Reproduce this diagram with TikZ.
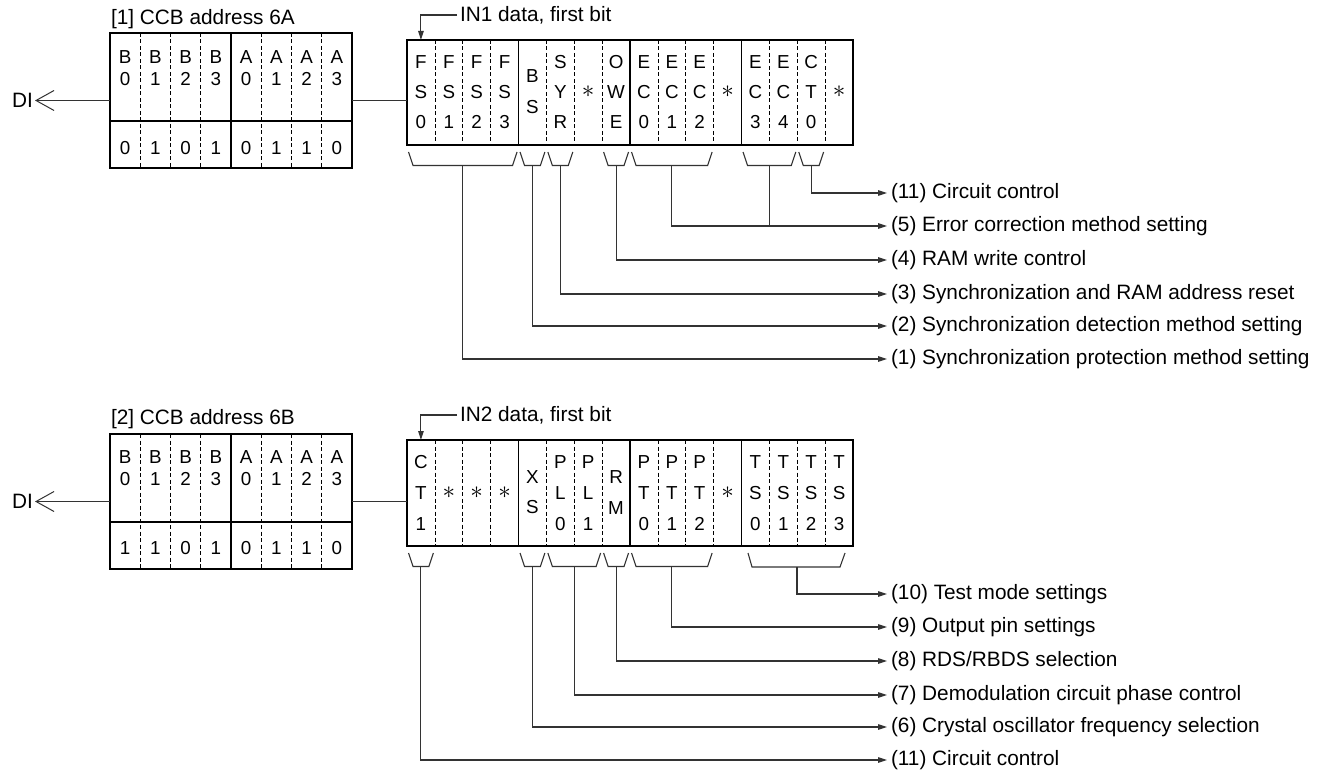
\documentclass[tikz,border=0pt]{standalone}
\usepackage{fontspec}
\setmainfont{Liberation Sans}
\usetikzlibrary{arrows.meta}
\newcommand{\bitbracket}[4]{% name, first col, last col, top y
  \draw[brk] ({407+27.875*#2+1.5},#4) -- ({407+27.875*#2+6},#4+13.5) -- ({407+27.875*(#3+1)-6},#4+13.5) -- ({407+27.875*(#3+1)-1.5},#4);
  \coordinate (#1) at ({407+27.875*(#2+#3+1)/2},#4+13.5);
}
\newcommand{\astx}{\scalebox{1.45}{$\ast$}}
\begin{document}
\begin{tikzpicture}[x=1pt,y=-1pt,
  every node/.style={inner sep=0pt, outer sep=0pt, font=\fontsize{20.8}{24}\selectfont},
  cell/.style={font=\fontsize{18.8}{22}\selectfont},
  boxln/.style={line width=1.2pt},
  divln/.style={line width=0.75pt, dash pattern=on 4pt off 2.5pt},
  conn/.style={line width=1.1pt, draw=black!80},
  brk/.style={line width=1.1pt, draw=black!80},
  tip/.style={-{Triangle[length=9pt,width=5.5pt]}},
  barb/.style={-{Straight Barb[length=18pt,width=20pt,line width=1pt]}},
  lab/.style={anchor=west, inner xsep=4pt},
  ttl/.style={anchor=west},
]
\useasboundingbox (0,0) rectangle (1327,775);

% ================= ROW 1 =================
\node[ttl] (t1) at (111,19) {[1] CCB address 6A};
\node[draw, boxln, minimum width=242pt, minimum height=135pt, anchor=north west] (a1) at (110,33) {};
\foreach \i in {1,2,3,5,6,7} \draw[divln] ({110+30.25*\i},33) -- ({110+30.25*\i},168);
\draw[boxln] (a1.north west) ++(121,0) -- ++(0,135);
\draw[boxln] (110,121) -- (352,121);
\foreach \i/\a/\b/\v in {0/B/0/0,1/B/1/1,2/B/2/0,3/B/3/1,4/A/0/0,5/A/1/1,6/A/2/1,7/A/3/0} {
  \node[cell] (a1t\i) at ({110+30.25*(\i+0.5)},57.5) {\a};
  \node[cell] (a1m\i) at ({110+30.25*(\i+0.5)},79) {\b};
  \node[cell] (a1v\i) at ({110+30.25*(\i+0.5)},148) {\v};
}
\node[anchor=east, inner xsep=2pt] (di1) at (35,100.5) {DI};
\draw[conn, barb] (a1.west) -- (di1.east);

\node[draw, boxln, minimum width=446pt, minimum height=105pt, anchor=north west] (b1) at (407,40) {};
\foreach \i in {1,2,3,5,6,7,9,10,11,13,14,15} \draw[divln] ({407+27.875*\i},40) -- ({407+27.875*\i},145);
\foreach \i in {4,8,12} \draw[boxln] ({407+27.875*\i},40) -- ({407+27.875*\i},145);
\draw[conn] (a1.east) -- (a1.east -| b1.west);
\foreach \i/\a/\b/\c in {0/F/S/0,1/F/S/1,2/F/S/2,3/F/S/3,5/S/Y/R,7/O/W/E,8/E/C/0,9/E/C/1,10/E/C/2,12/E/C/3,13/E/C/4,14/C/T/0} {
  \node[cell] (p1a\i) at ({407+27.875*(\i+0.5)},62) {\a};
  \node[cell] (p1b\i) at ({407+27.875*(\i+0.5)},92) {\b};
  \node[cell] (p1c\i) at ({407+27.875*(\i+0.5)},122) {\c};
}
\node[cell] (p1a4) at ({407+27.875*4.5},76.5) {B};
\node[cell] (p1b4) at ({407+27.875*4.5},107) {S};
\foreach \i in {6,11,15} \node[cell] (p1s\i) at ({407+27.875*(\i+0.5)},92) {\astx};

\node[anchor=west, inner xsep=3pt] (in1) at (457,15) {IN1 data, first bit};
\draw[conn, tip] (in1.west) -| (p1a0 |- b1.north);

\bitbracket{s1fs}{0}{3}{152}
\bitbracket{s1bs}{4}{4}{152}
\bitbracket{s1sy}{5}{5}{152}
\bitbracket{s1ow}{7}{7}{152}
\bitbracket{s1ec}{8}{10}{152}
\bitbracket{s1ed}{12}{13}{152}
\bitbracket{s1ct}{14}{14}{152}

\node[lab] (l1k) at (887,193) {(11) Circuit control};
\node[lab] (l1e) at (887,226) {(5) Error correction method setting};
\node[lab] (l1d) at (887,260) {(4) RAM write control};
\node[lab] (l1c) at (887,294) {(3) Synchronization and RAM address reset};
\node[lab] (l1b) at (887,326) {(2) Synchronization detection method setting};
\node[lab] (l1a) at (887,359) {(1) Synchronization protection method setting};

\draw[conn, tip] (s1ct) |- (l1k.west);
\draw[conn, tip] (s1ec) |- (l1e.west);
\draw[conn] (s1ed) -- (s1ed |- l1e.west);
\draw[conn, tip] (s1ow) |- (l1d.west);
\draw[conn, tip] (s1sy) |- (l1c.west);
\draw[conn, tip] (s1bs) |- (l1b.west);
\draw[conn, tip] (s1fs) |- (l1a.west);

% ================= ROW 2 =================
\node[ttl] (t2) at (111,419) {[2] CCB address 6B};
\node[draw, boxln, minimum width=242pt, minimum height=135pt, anchor=north west] (a2) at (110,434) {};
\foreach \i in {1,2,3,5,6,7} \draw[divln] ({110+30.25*\i},434) -- ({110+30.25*\i},569);
\draw[boxln] (a2.north west) ++(121,0) -- ++(0,135);
\draw[boxln] (110,522) -- (352,522);
\foreach \i/\a/\b/\v in {0/B/0/1,1/B/1/1,2/B/2/0,3/B/3/1,4/A/0/0,5/A/1/1,6/A/2/1,7/A/3/0} {
  \node[cell] (a2t\i) at ({110+30.25*(\i+0.5)},457.5) {\a};
  \node[cell] (a2m\i) at ({110+30.25*(\i+0.5)},479) {\b};
  \node[cell] (a2v\i) at ({110+30.25*(\i+0.5)},548) {\v};
}
\node[anchor=east, inner xsep=2pt] (di2) at (35,501.5) {DI};
\draw[conn, barb] (a2.west) -- (di2.east);

\node[draw, boxln, minimum width=446pt, minimum height=106pt, anchor=north west] (b2) at (407,440) {};
\foreach \i in {1,2,3,5,6,7,9,10,11,13,14,15} \draw[divln] ({407+27.875*\i},440) -- ({407+27.875*\i},546);
\foreach \i in {4,8,12} \draw[boxln] ({407+27.875*\i},440) -- ({407+27.875*\i},546);
\draw[conn] (a2.east) -- (a2.east -| b2.west);
\foreach \i/\a/\b/\c in {0/C/T/1,5/P/L/0,6/P/L/1,8/P/T/0,9/P/T/1,10/P/T/2,12/T/S/0,13/T/S/1,14/T/S/2,15/T/S/3} {
  \node[cell] (p2a\i) at ({407+27.875*(\i+0.5)},462) {\a};
  \node[cell] (p2b\i) at ({407+27.875*(\i+0.5)},493) {\b};
  \node[cell] (p2c\i) at ({407+27.875*(\i+0.5)},524) {\c};
}
\node[cell] (p2a4) at ({407+27.875*4.5},477) {X};
\node[cell] (p2b4) at ({407+27.875*4.5},507) {S};
\node[cell] (p2a7) at ({407+27.875*7.5},477) {R};
\node[cell] (p2b7) at ({407+27.875*7.5},508) {M};
\foreach \i in {1,2,3,11} \node[cell] (p2s\i) at ({407+27.875*(\i+0.5)},493) {\astx};

\node[anchor=west, inner xsep=3pt] (in2) at (457,415) {IN2 data, first bit};
\draw[conn, tip] (in2.west) -| (p2a0 |- b2.north);

\bitbracket{s2ct}{0}{0}{553}
\bitbracket{s2xs}{4}{4}{553}
\bitbracket{s2pl}{5}{6}{553}
\bitbracket{s2rm}{7}{7}{553}
\bitbracket{s2pt}{8}{10}{553}
\draw[brk] (748,553) -- (752,567) -- (840,567) -- (845,553);
\coordinate (s2ts) at (797,567);

\node[lab] (l2j) at (887,594) {(10) Test mode settings};
\node[lab] (l2i) at (887,627) {(9) Output pin settings};
\node[lab] (l2h) at (887,661) {(8) RDS/RBDS selection};
\node[lab] (l2g) at (887,695) {(7) Demodulation circuit phase control};
\node[lab] (l2f) at (887,727) {(6) Crystal oscillator frequency selection};
\node[lab] (l2k) at (887,760) {(11) Circuit control};

\draw[conn, tip] (s2ts) |- (l2j.west);
\draw[conn, tip] (s2pt) |- (l2i.west);
\draw[conn, tip] (s2rm) |- (l2h.west);
\draw[conn, tip] (s2pl) |- (l2g.west);
\draw[conn, tip] (s2xs) |- (l2f.west);
\draw[conn, tip] (s2ct) |- (l2k.west);
\end{tikzpicture}
\end{document}
